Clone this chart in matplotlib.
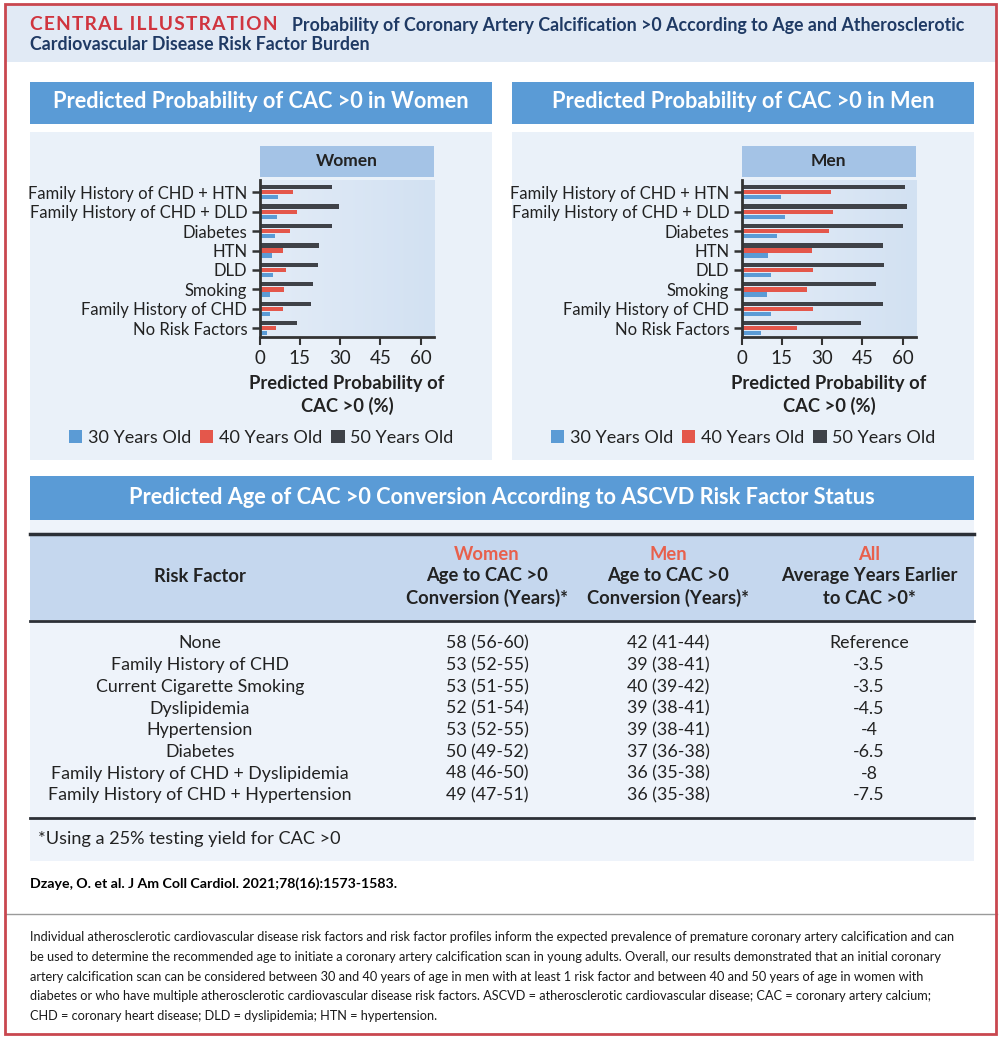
import matplotlib.pyplot as plt
import numpy as np
from matplotlib.patches import Rectangle
from matplotlib.colors import LinearSegmentedColormap

W, H = 1004, 1041

factors = ['No Risk Factors', 'Family History of CHD', 'Smoking', 'DLD', 'HTN',
           'Diabetes', 'Family History of CHD + DLD', 'Family History of CHD + HTN']
ages = ['30 Years Old', '40 Years Old', '50 Years Old']
women_30 = [2.6, 3.7, 3.7, 4.8, 4.6, 5.6, 6.3, 6.7]
women_40 = [5.9, 8.6, 8.9, 9.7, 8.6, 11.3, 13.8, 12.3]
women_50 = [13.8, 19.3, 19.7, 21.9, 22.3, 27.1, 29.4, 27.1]
men_30 = [7.3, 11.0, 9.5, 11.0, 9.9, 13.3, 16.2, 14.7]
men_40 = [20.7, 26.6, 24.4, 26.6, 26.3, 32.6, 34.1, 33.3]
men_50 = [44.5, 52.7, 50.1, 53.0, 52.7, 60.1, 61.6, 61.0]
xticks = [0, 15, 30, 45, 60]

table_factor = ['None', 'Family History of CHD', 'Current Cigarette Smoking', 'Dyslipidemia',
                'Hypertension', 'Diabetes', 'Family History of CHD + Dyslipidemia',
                'Family History of CHD + Hypertension']
women_age = ['58 (56-60)', '53 (52-55)', '53 (51-55)', '52 (51-54)', '53 (52-55)',
             '50 (49-52)', '48 (46-50)', '49 (47-51)']
men_age = ['42 (41-44)', '39 (38-41)', '40 (39-42)', '39 (38-41)', '39 (38-41)',
           '37 (36-38)', '36 (35-38)', '36 (35-38)']
years_earlier = ['Reference', '-3.5', '-3.5', '-4.5', '-4', '-6.5', '-8', '-7.5']

plt.rcParams['font.family'] = ['Lato', 'DejaVu Sans']
BLUE, RED, DARK = '#5B9BD5', '#E4574B', '#3F4248'
HEAD = '#5A9BD6'
NAVY = '#1F3A64'
TXT = '#222222'

fig = plt.figure(figsize=(W / 100, H / 100), dpi=100)
fig.patch.set_facecolor('white')


def rect(x0, y0, x1, y1, color, z=-1, **kw):
    fig.add_artist(Rectangle((x0 / W, 1 - y1 / H), (x1 - x0) / W, (y1 - y0) / H,
                             transform=fig.transFigure, facecolor=color,
                             edgecolor='none', zorder=z, **kw))


def hline(x0, x1, y, color, lw):
    fig.add_artist(plt.Line2D([x0 / W, x1 / W], [1 - y / H, 1 - y / H],
                              transform=fig.transFigure, color=color, lw=lw, zorder=2))


def txt(x, y, s, **kw):
    kw.setdefault('va', 'center')
    kw.setdefault('color', TXT)
    return fig.text(x / W, 1 - y / H, s, **kw)


# outer frame and title band
rect(6, 4, 997, 62, '#E1EAF5')
fig.add_artist(Rectangle((5 / W, 1 - 1034 / H), 991 / W, 1030 / H, transform=fig.transFigure,
                         facecolor='none', edgecolor='#C9474F', lw=2, zorder=5))
txt(30, 25, '\u200a'.join('CENTRAL ILLUSTRATION'), color='#D0353F', fontsize=13.8,
    fontweight='bold')
txt(292, 25, 'Probability of Coronary Artery Calcification >0 According to Age and Atherosclerotic',
    color=NAVY, fontsize=12.8, fontweight='bold')
txt(30, 45, 'Cardiovascular Disease Risk Factor Burden', color=NAVY, fontsize=12.8,
    fontweight='bold')

cm = LinearSegmentedColormap.from_list('bg', ['#E3ECF7', '#D2E1F2'])


def panel(px0, px1, sex, v30, v40, v50):
    rect(px0, 82, px1, 124, HEAD)
    txt((px0 + px1) / 2, 102, 'Predicted Probability of CAC >0 in ' + sex, color='white',
        fontsize=15.7, fontweight='bold', ha='center')
    rect(px0, 132, px1, 460, '#EAF1F9')
    ax0 = px0 + 229.7
    ax1 = ax0 + 174.3
    rect(ax0, 146, ax1, 177, '#A4C3E6')
    txt((ax0 + ax1) / 2, 161, sex, fontsize=12.5, fontweight='bold', ha='center')
    ax = fig.add_axes([ax0 / W, 1 - 337 / H, (ax1 - ax0) / W, 157 / H])
    ax.set_facecolor('none')
    ax.imshow(np.linspace(0, 1, 256)[None, :], extent=[0, 65, -0.45, 7.63], aspect='auto',
              cmap=cm, zorder=0)
    y = np.arange(len(factors))
    b1 = ax.barh(y - 0.26, v30, height=0.22, color=BLUE, zorder=2)
    b2 = ax.barh(y, v40, height=0.22, color=RED, zorder=2)
    b3 = ax.barh(y + 0.26, v50, height=0.22, color=DARK, zorder=2)
    ax.set_xlim(0, 65)
    ax.set_ylim(-0.45, 7.63)
    ax.set_yticks(y)
    ax.set_yticklabels(factors)
    ax.set_xticks(xticks)
    for s in ['top', 'right']:
        ax.spines[s].set_visible(False)
    for s in ['left', 'bottom']:
        ax.spines[s].set_color('#333333')
        ax.spines[s].set_linewidth(2)
        ax.spines[s].set_zorder(3)
    ax.tick_params(axis='y', length=6, width=1.8, color='#333333', labelsize=12, pad=3,
                   labelcolor=TXT)
    ax.tick_params(axis='x', length=6, width=1.5, color='#333333', labelsize=13.5, pad=3,
                   labelcolor=TXT)
    txt((ax0 + ax1) / 2, 395, 'Predicted Probability of\nCAC >0 (%)', fontsize=13.2,
        fontweight='bold', ha='center', linespacing=1.3)
    fig.legend([b1, b2, b3], ages, loc='center', bbox_to_anchor=((px0 + px1) / 2 / W, 1 - 438 / H),
               ncol=3, frameon=False, handlelength=0.75, handleheight=0.75, handletextpad=0.3,
               columnspacing=0.5, fontsize=13, labelcolor=TXT)


panel(30, 492, 'Women', women_30, women_40, women_50)
panel(512, 974, 'Men', men_30, men_40, men_50)

# table section
rect(30, 476, 974, 520, HEAD)
txt(502, 497, 'Predicted Age of CAC >0 Conversion According to ASCVD Risk Factor Status',
    color='white', fontsize=15.7, fontweight='bold', ha='center')
rect(30, 520, 974, 533, '#EEF3FA')
rect(30, 534, 974, 620, '#C5D7EE')
rect(30, 621, 974, 817, '#EEF3FA')
rect(30, 818, 974, 861, '#EEF3FA')
hline(30, 974, 534, '#2B2F36', 2.5)
hline(30, 974, 621, '#2B2F36', 2)
hline(30, 974, 818, '#2B2F36', 2)

cols = [200, 487, 668, 869]
txt(cols[0], 576, 'Risk Factor', fontsize=13.2, fontweight='bold', ha='center')
heads = [('Women', 'Age to CAC >0', 'Conversion (Years)*'),
         ('Men', 'Age to CAC >0', 'Conversion (Years)*'),
         ('All', 'Average Years Earlier', 'to CAC >0*')]
for cx, (a, b, c) in zip(cols[1:], heads):
    txt(cx, 554, a, fontsize=13.2, fontweight='bold', ha='center', color='#E8604C')
    txt(cx, 576, b, fontsize=13.2, fontweight='bold', ha='center')
    txt(cx, 598, c, fontsize=13.2, fontweight='bold', ha='center')

for i in range(len(table_factor)):
    yy = 643.5 + i * 21.7
    for cx, col in zip(cols, [table_factor, women_age, men_age, years_earlier]):
        txt(cx, yy, col[i], fontsize=12.8, ha='center')

txt(38, 839, '*Using a 25% testing yield for CAC >0', fontsize=13.1)
txt(30, 884, 'Dzaye, O. et al. J Am Coll Cardiol. 2021;78(16):1573-1583.', fontsize=10.2,
    fontweight='bold', color='black')
hline(6, 997, 914, '#9A9A9A', 1)

caption = [
    'Individual atherosclerotic cardiovascular disease risk factors and risk factor profiles inform the expected prevalence of premature coronary artery calcification and can',
    'be used to determine the recommended age to initiate a coronary artery calcification scan in young adults. Overall, our results demonstrated that an initial coronary',
    'artery calcification scan can be considered between 30 and 40 years of age in men with at least 1 risk factor and between 40 and 50 years of age in women with',
    'diabetes or who have multiple atherosclerotic cardiovascular disease risk factors. ASCVD = atherosclerotic cardiovascular disease; CAC = coronary artery calcium;',
    'CHD = coronary heart disease; DLD = dyslipidemia; HTN = hypertension.',
]
for i, line in enumerate(caption):
    txt(30, 937 + i * 19.8, line, fontsize=9.2, color='#1A1A1A')

fig.savefig('out.png', dpi=100)
